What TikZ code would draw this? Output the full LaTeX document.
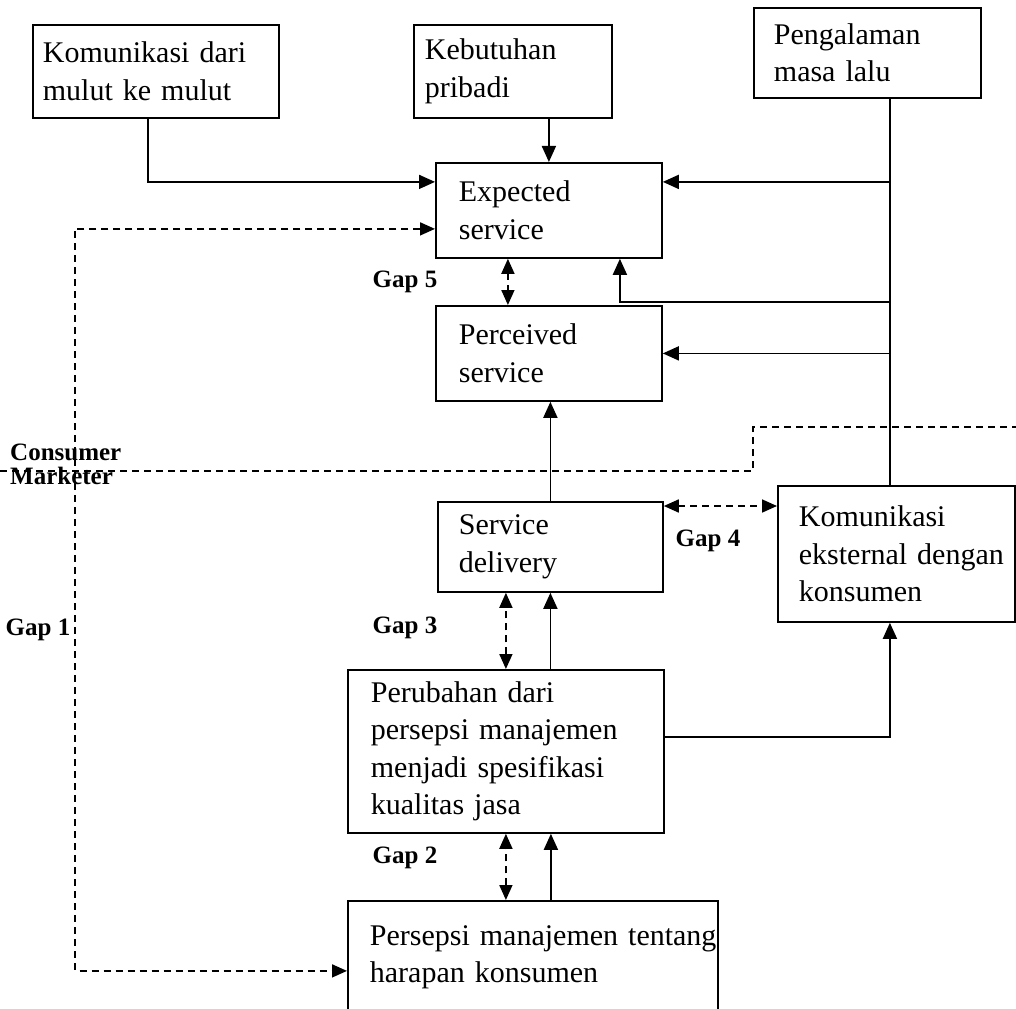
\documentclass[tikz,border=0pt]{standalone}
\usepackage{fontspec}
\setmainfont{Liberation Serif}
\usetikzlibrary{positioning,calc,arrows.meta}
\definecolor{Ink}{HTML}{000000}
\newcommand{\TeksJasa}{\fontsize{30}{37.5}\selectfont\hyphenpenalty=10000\exhyphenpenalty=10000}
\newcommand{\TeksGap}{\fontsize{25}{28}\selectfont\bfseries}
\newcommand{\KotakJasa}[6][20]{%
\pgfmathsetmacro{\LebarTeks}{#4-2*#1}%
\node[kotak, minimum width=#4pt, minimum height=#5pt,
      text width=\LebarTeks pt, inner xsep=#1pt] (#2) at #3 {#6};
}

\begin{document}
\begin{tikzpicture}[
    x=1pt,
    y=-1pt,
    kotak/.style={draw=Ink, line width=1.8pt, anchor=north west, inner ysep=0pt,
                  align=left, font=\TeksJasa, text=Ink},
    panah/.style={-{Triangle[length=16pt,width=14pt]}, Ink, line width=1.7pt},
    garis/.style={Ink, line width=1.7pt},
    panahgap/.style={{Triangle[length=15pt,width=13pt]}-{Triangle[length=15pt,width=13pt]},
                     Ink, line width=1.7pt, dash pattern=on 7pt off 5pt},
    garisputus/.style={Ink, line width=1.7pt, dash pattern=on 7pt off 5pt},
    tulisgap/.style={font=\TeksGap, text=Ink, inner sep=0pt}
]
\useasboundingbox (0,0) rectangle (1016,1008);

% Kotak atas
\KotakJasa[10]{mulut}{(32,24)}{246}{93}{Komunikasi dari\\mulut ke mulut}
\KotakJasa[11]{pribadi}{(413,24)}{198}{93}{Kebutuhan\\pribadi}
\KotakJasa{pengalaman}{(753,7)}{227}{90}{Pengalaman\\masa lalu}

% Kotak tengah dan bawah
\KotakJasa[23]{expected}{(435,162)}{226}{95}{Expected\\service}
\KotakJasa[23]{perceived}{(435,305)}{226}{95}{Perceived\\service}
\KotakJasa[21]{delivery}{(437,501)}{225}{90}{Service\\delivery}
\KotakJasa[21]{eksternal}{(777,485)}{237}{136}{Komunikasi\\eksternal~dengan\\konsumen}
\KotakJasa[23]{perubahan}{(347,669)}{316}{163}{Perubahan dari\\persepsi~manajemen\\menjadi~spesifikasi\\kualitas jasa}
\KotakJasa[22]{persepsi}{(347,900)}{370}{113}{Persepsi~manajemen~tentang\\harapan konsumen}

% Batas consumer / marketer
\draw[garisputus] (0,471) -- (753,471) -- (753,427) -- (1016,427);
\node[tulisgap, anchor=west] (consumer) at (10,452) {Consumer};
\node[tulisgap, anchor=west] (marketer) at (10,476) {Marketer};

% Masukan ke expected service
\draw[panah] ([xshift=-8pt]mulut.south) |- ([yshift=28.5pt]expected.west);
\draw[panah] (pribadi.south -| expected.north) -- (expected.north);

% Pengalaman masa lalu dan komunikasi eksternal
\coordinate (tiang) at ([xshift=-6.5pt]eksternal.north);
\coordinate (expE) at ([yshift=28.5pt]expected.east);
\coordinate (expS) at ([xshift=71pt]expected.south);
\coordinate (cabang) at (889,302);
\draw[garis] (pengalaman.south -| tiang) -- (tiang);
\draw[panah] (tiang |- expE) -- (expE);
\draw[panah] (cabang) -| (expS);
\draw[panah] (tiang |- perceived.east) -- (perceived.east);

% Gap 5
\draw[panahgap] ([xshift=-41pt]expected.south) -- ([xshift=-41pt]perceived.north);
\node[tulisgap] (gap5) at (405,282) {Gap 5};

% Service delivery -> perceived service
\draw[panah] (delivery.north) -- (delivery.north |- perceived.south);

% Gap 4
\coordinate (g4) at ([yshift=-5pt]delivery.north east);
\draw[panahgap] (g4) -- (g4 -| eksternal.west);
\node[tulisgap] (gap4) at (708,541) {Gap 4};

% Gap 3
\draw[panahgap] (perubahan.north) -- (perubahan.north |- delivery.south);
\draw[panah] (perubahan.north -| delivery.south) -- (delivery.south);
\node[tulisgap] (gap3) at (405,628) {Gap 3};

% Spesifikasi -> komunikasi eksternal
\coordinate (kanan) at ([yshift=14.5pt]perubahan.east);
\draw[panah] (kanan) -| (tiang |- eksternal.south);

% Gap 2
\coordinate (g2) at ([xshift=45pt]perubahan.south);
\draw[panahgap] (persepsi.north -| perubahan.south) -- (perubahan.south);
\draw[panah] (persepsi.north -| g2) -- (g2);
\node[tulisgap] (gap2) at (405,858) {Gap 2};

% Gap 1
\coordinate (kiri) at (75,600);
\draw[panahgap] ([yshift=-18.5pt]expected.west) -| (kiri) |- ([yshift=-13.5pt]persepsi.west);
\node[tulisgap] (gap1) at (38,630) {Gap 1};

\end{tikzpicture}
\end{document}
